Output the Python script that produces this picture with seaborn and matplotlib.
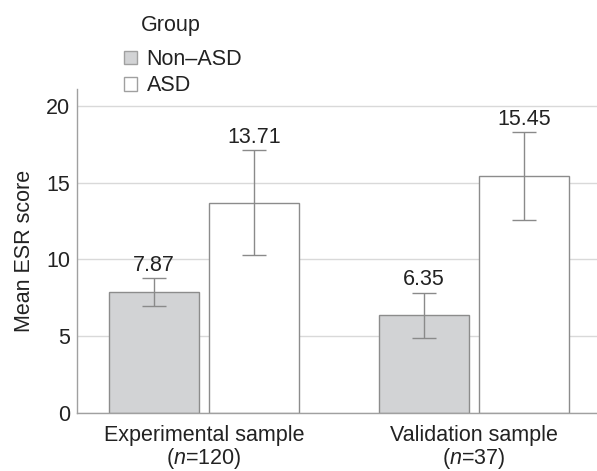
import matplotlib
matplotlib.use("Agg")
import matplotlib.pyplot as plt
import seaborn as sns
import pandas as pd
from matplotlib.patches import Patch

# Data
samples = ["Experimental sample", "Validation sample"]
sample_n = [120, 37]
groups = ["Non\u2013ASD", "ASD"]
mean_non_asd = [7.87, 6.35]
mean_asd = [13.71, 15.45]
err_non_asd = [0.90, 1.45]
err_asd = [3.41, 2.85]

df = pd.DataFrame({
    "sample": samples * 2,
    "group": [groups[0]] * 2 + [groups[1]] * 2,
    "score": mean_non_asd + mean_asd,
    "err": err_non_asd + err_asd,
})

sns.set_theme(style="white")
plt.rcParams["font.family"] = ["Liberation Sans", "DejaVu Sans"]
plt.rcParams["mathtext.fontset"] = "custom"
plt.rcParams["mathtext.it"] = "Liberation Sans:italic"
plt.rcParams["mathtext.rm"] = "Liberation Sans"

FS = 15.5
txt_color = "#222222"
edge = "#8c8c8c"
colors = {groups[0]: "#d2d3d5", groups[1]: "#ffffff"}

fig = plt.figure(figsize=(5.97, 4.71), dpi=100)
ax = fig.add_axes([0.1295, 0.124, 0.8705, 0.686])

sns.barplot(data=df, x="sample", y="score", hue="group", order=samples,
            hue_order=groups, palette=colors, width=0.74, gap=0.1,
            errorbar=None, edgecolor=edge, linewidth=1.0, ax=ax, legend=False,
            zorder=2)

bar_containers = list(ax.containers)
for gi, cont in enumerate(bar_containers):
    sub = df[df["group"] == groups[gi]].set_index("sample").loc[samples]
    for bar, (_, row) in zip(cont.patches, sub.iterrows()):
        xc = bar.get_x() + bar.get_width() / 2
        ax.errorbar(xc, row["score"], yerr=row["err"], color="#8a8a8a",
                    elinewidth=1.0, capsize=8.5, capthick=1.0, zorder=3)
        ax.annotate(f"{row['score']:.2f}", (xc, row["score"] + row["err"]),
                    xytext=(0, 2), textcoords="offset points", ha="center",
                    va="bottom", fontsize=FS, color=txt_color)

ax.set_ylim(0, 21.1)
ax.set_xlim(-0.469, 1.456)
ax.set_yticks([0, 5, 10, 15, 20])
ax.set_xticks([0, 1])
ax.set_xticklabels([f"{s}\n($\\it{{n}}$={n})" for s, n in zip(samples, sample_n)],
                   fontsize=FS, color=txt_color, linespacing=1.0)
ax.tick_params(axis="y", labelsize=FS, labelcolor=txt_color, length=0, pad=5)
ax.tick_params(axis="x", length=0, pad=9)
ax.set_xlabel("")
ax.set_ylabel("Mean ESR score", fontsize=FS, color=txt_color, labelpad=8)

ax.yaxis.grid(True, color="#d9d9d9", linewidth=1.0, zorder=0)
ax.set_axisbelow(True)
for s in ["top", "right"]:
    ax.spines[s].set_visible(False)
ax.spines["left"].set_color("#a0a0a0")
ax.spines["bottom"].set_color("#a0a0a0")
ax.spines["left"].set_linewidth(1.0)
ax.spines["bottom"].set_linewidth(1.0)

handles = [Patch(facecolor=colors[g], edgecolor="#a0a0a0", label=g) for g in groups]
fig.text(141 / 597, 1 - 25 / 471, "Group", fontsize=FS, color=txt_color,
         ha="left", va="center")
leg = fig.legend(handles=handles, loc="upper left",
                 bbox_to_anchor=(109 / 597, 1 - 34 / 471), frameon=False,
                 fontsize=FS, handlelength=0.6, handleheight=0.6,
                 handletextpad=0.45, labelspacing=0.25, borderpad=0.2,
                 labelcolor=txt_color)

fig.savefig("out.png", dpi=100)
